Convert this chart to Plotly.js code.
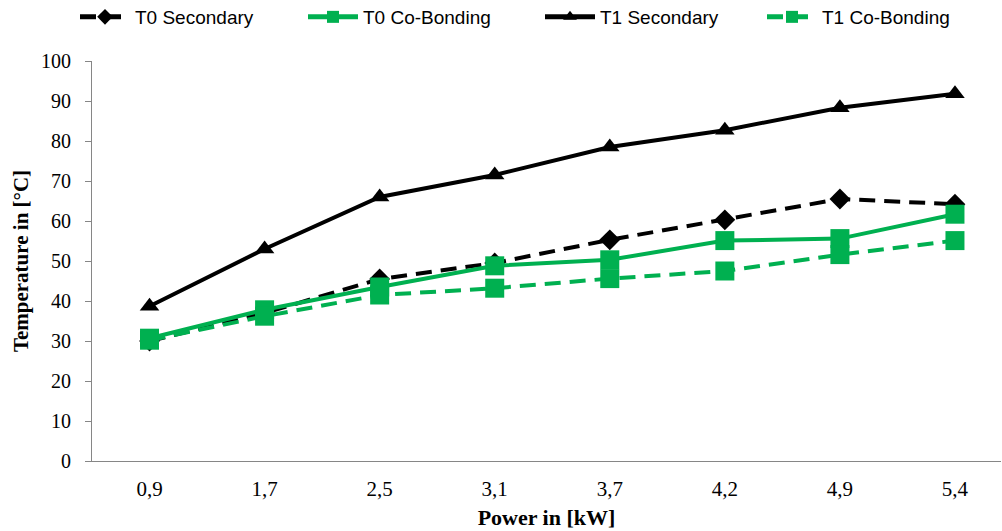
<!DOCTYPE html>
<html>
<head>
<meta charset="utf-8">
<script src="https://cdn.plot.ly/plotly-3.0.1.min.js"></script>
<style>html,body{margin:0;padding:0;background:#fff;}#chart{width:1002px;height:531px;}</style>
</head>
<body>
<div id="chart"></div>
<script>
const categories = ["0,9", "1,7", "2,5", "3,1", "3,7", "4,2", "4,9", "5,4"];
const t0Secondary = [30, 37, 45.5, 49.5, 55.3, 60.3, 65.5, 64.2];
const t0CoBonding = [30.7, 37.8, 43.5, 48.8, 50.3, 55.1, 55.6, 61.7];
const t1Secondary = [38.7, 53, 66, 71.5, 78.5, 82.7, 88.3, 91.8];
const t1CoBonding = [30.2, 36.2, 41.5, 43.2, 45.6, 47.5, 51.6, 55.1];
const yTicks = [0, 10, 20, 30, 40, 50, 60, 70, 80, 90, 100];

const green = "#00B050";
const dashPat = "16px,9px";
const traces = [
  {name: "T0 Secondary", legend: "legend", x: categories, y: t0Secondary, mode: "lines+markers",
   line: {color: "#000", width: 4, dash: dashPat}, marker: {symbol: "diamond", size: 16, color: "#000"}},
  {name: "T0 Co-Bonding", legend: "legend2", x: categories, y: t0CoBonding, mode: "lines+markers",
   line: {color: green, width: 4}, marker: {symbol: "square", size: 19, color: green}},
  {name: "T1 Secondary", legend: "legend3", x: categories, y: t1Secondary, mode: "lines+markers",
   line: {color: "#000", width: 4}, marker: {symbol: "triangle-up", size: 17, color: "#000"}},
  {name: "T1 Co-Bonding", legend: "legend4", x: categories, y: t1CoBonding, mode: "lines+markers",
   line: {color: green, width: 4, dash: dashPat}, marker: {symbol: "square", size: 19, color: green}}
];

function leg(xpx) {
  return {orientation: "h", xref: "container", yref: "container", x: xpx / 1002, y: 1 - 17 / 531,
    xanchor: "left", yanchor: "middle", itemwidth: 50, itemsizing: "constant", bgcolor: "rgba(0,0,0,0)",
    font: {family: "Liberation Sans, Arial, sans-serif", size: 19, color: "#000"}};
}

const titleFont = {family: "Liberation Serif, serif", color: "#000", weight: "bold"};
const layout = {
  width: 1002, height: 531,
  margin: {l: 92, r: 1, t: 61, b: 70, autoexpand: false},
  paper_bgcolor: "#fff", plot_bgcolor: "#fff",
  showlegend: true,
  legend: leg(75), legend2: leg(303), legend3: leg(540), legend4: leg(762),
  xaxis: {type: "category", range: [-0.5, 7.4], showgrid: false, zeroline: false,
    showline: true, linecolor: "#868686", linewidth: 1, ticks: "", ticklabelstandoff: 9,
    tickfont: {family: "Liberation Serif, serif", size: 21, color: "#000"},
    title: {text: "Power in [kW]", standoff: 9, font: Object.assign({size: 22}, titleFont)}},
  yaxis: {range: [0, 100], tickvals: yTicks, showgrid: false, zeroline: false,
    showline: true, linecolor: "#868686", linewidth: 1, ticks: "outside", ticklen: 6, tickcolor: "#868686",
    ticklabelstandoff: 10,
    tickfont: {family: "Liberation Serif, serif", size: 20, color: "#000"},
    title: {text: "Temperature in [°C]", standoff: 6, font: Object.assign({size: 21}, titleFont)}}
};
Plotly.newPlot("chart", traces, layout, {displayModeBar: false, staticPlot: true});
</script>
</body>
</html>
